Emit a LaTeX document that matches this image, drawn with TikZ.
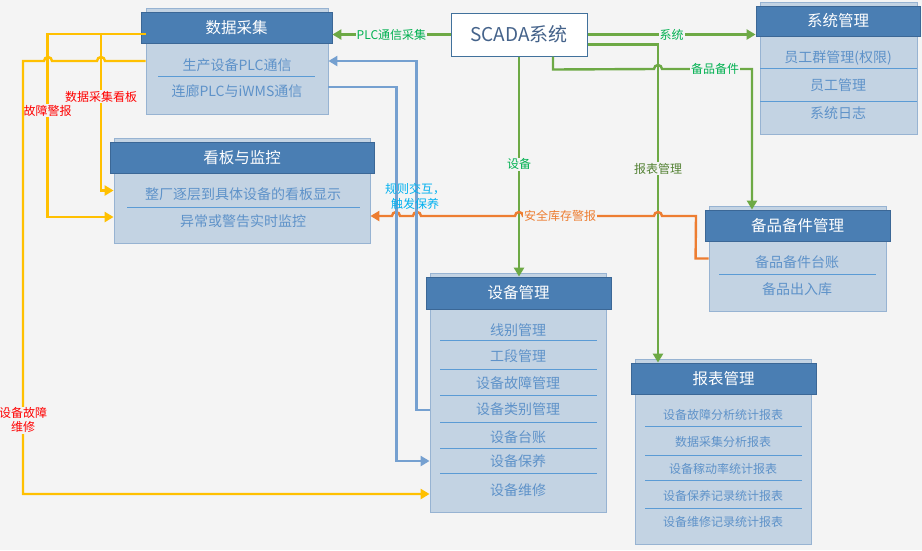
\documentclass[tikz,border=0pt]{standalone}
\usepackage{fontspec}
\usepackage{tikz}
\usetikzlibrary{arrows.meta,calc,positioning}
\newfontfamily\cjk{Noto Sans CJK SC}
\definecolor{bgc}{HTML}{F4F4F4}
\definecolor{headfill}{HTML}{4A7EB3}
\definecolor{headedge}{HTML}{3B6796}
\definecolor{bodyfill}{HTML}{C3D3E3}
\definecolor{bodyedge}{HTML}{97B3D2}
\definecolor{itemtxt}{HTML}{5E92C9}
\definecolor{sepc}{HTML}{5B9BD5}
\definecolor{gline}{HTML}{6DA945}
\definecolor{gtxt}{HTML}{00B050}
\definecolor{gdark}{HTML}{548235}
\definecolor{bline}{HTML}{75A0D0}
\definecolor{oline}{HTML}{ED7D31}
\definecolor{yline}{HTML}{FFC000}
\definecolor{scedge}{HTML}{41719C}
\definecolor{sctxt}{HTML}{44628A}
\definecolor{ltblue}{HTML}{00B0F0}
\tikzset{
  modbody/.style={
    shape = rectangle,
    draw = bodyedge,
    fill = bodyfill,
    line width = 0.8pt,
    inner sep = 0pt
  },
  modhead/.style={
    shape = rectangle,
    draw = headedge,
    fill = headfill,
    line width = 0.8pt,
    inner sep = 0pt,
    text = white,
    font = \cjk\fontsize{15.5}{18}\selectfont
  },
}
\tikzset{
  item/.style={
    text = itemtxt,
    font = \cjk\fontsize{14}{16}\selectfont,
    inner sep = 1pt
  },
  smallitem/.style={
    item,
    font = \cjk\fontsize{12}{14}\selectfont
  },
  sep/.style={
    draw = sepc,
    line width = 0.9pt
  },
  link/.style={
    line width = 2.4pt,
    -{Triangle[length=9pt,width=10pt]}
  },
  tag/.style={
    font = \cjk\fontsize{12}{14}\selectfont,
    fill = bgc,
    inner sep = 1pt
  }
}
\begin{document}
\begin{tikzpicture}[x=1pt,y=-1pt]
    \fill[bgc] (0,0) rectangle (922,550);
    \useasboundingbox (0,0) rectangle (922,550);
    % modules
    \node[modbody, minimum width=182pt, minimum height=106pt] (dcbody) at (237,61) {};
    \node[modhead, minimum width=191pt, minimum height=31pt] (dchead) at (236.5,27.5) {数据采集};
    \node[modbody, minimum width=256pt, minimum height=105pt] (kbbody) at (242,190.5) {};
    \node[modhead, minimum width=264pt, minimum height=31pt] (kbhead) at (242,157.5) {看板与监控};
    \node[modbody, minimum width=157pt, minimum height=132pt] (ssbody) at (838.5,68) {};
    \node[modhead, minimum width=164pt, minimum height=30pt] (sshead) at (838,21) {系统管理};
    \node[modbody, minimum width=177pt, minimum height=105pt] (bjbody) at (797.5,258.5) {};
    \node[modhead, minimum width=185pt, minimum height=31pt] (bjhead) at (797.5,225.5) {备品备件管理};
    \node[modbody, minimum width=176pt, minimum height=239pt] (sbbody) at (518,392.5) {};
    \node[modhead, minimum width=185pt, minimum height=32pt] (sbhead) at (518.5,293) {设备管理};
    \node[modbody, minimum width=176pt, minimum height=185pt] (rpbody) at (723,451.5) {};
    \node[modhead, minimum width=185pt, minimum height=31pt] (rphead) at (723.5,378.5) {报表管理};
    \node[draw=scedge, fill=white, line width=1pt, minimum width=136pt, minimum height=43pt,
      text=sctxt, font=\cjk\fontsize{19}{22}\selectfont] (scada) at (519,34.5) {SCADA系统};
    % items
    \foreach \t/\y [count=\i] in {生产设备PLC通信/65, 连廊PLC与iWMS通信/90.7}{
    \node[item] (dc\i) at (237,\y) {\t};}
    \foreach \t/\y [count=\i] in {整厂逐层到具体设备的看板显示/194, 异常或警告实时监控/220.7}{
    \node[item] (kb\i) at (243,\y) {\t};}
    \foreach \t/\y [count=\i] in {员工群管理(权限)/58.3, 员工管理/85, 系统日志/112.7}{
    \node[item] (ss\i) at (838,\y) {\t};}
    \foreach \t/\y [count=\i] in {备品备件台账/262, 备品出入库/289}{
    \node[item] (bj\i) at (797,\y) {\t};}
    \foreach \t/\y [count=\i] in {线别管理/330, 工段管理/356, 设备故障管理/382.7, 设备类别管理/409,
      设备台账/436.7, 设备保养/461, 设备维修/490}{
    \node[item] (sb\i) at (518,\y) {\t};}
    \foreach \t/\y [count=\i] in {设备故障分析统计报表/415.3, 数据采集分析报表/441.7, 设备稼动率统计报表/468.7,
      设备保养记录统计报表/495.7, 设备维修记录统计报表/522}{
    \node[smallitem] (rp\i) at (723,\y) {\t};}
    \draw[sep] (158,76) -- (315,76);
    \draw[sep] (127,207) -- (360,207);
    \foreach \y in {68,101}{\draw[sep] (760,\y) -- (917,\y);}
    \draw[sep] (719,274) -- (876,274);
    \foreach \y in {340.3,369.3,395.3,422.7,448.3,473.3}{\draw[sep] (440,\y) -- (597,\y);}
    \foreach \y in {426,455.3,480,508.3}{\draw[sep] (645,\y) -- (801.7,\y);}
    % green
    \draw[link, gline] (scada.west) -- (scada.west -| dchead.east)
      node[tag, text=gtxt, midway] (lplc) {PLC通信采集};
    \draw[link, gline] (scada.east) -- (scada.east -| sshead.west)
      node[tag, text=gtxt, midway] (lxt) {系统};
    \draw[link, gline] ([yshift=-10pt]scada.east) -| ([xshift=-65.5pt]rphead.north)
      node[tag, text=gdark, pos=0.695] (lbb) {报表管理};
    \draw[link, gline] (scada.south) -- (scada.south |- sbhead.north)
      node[tag, text=gtxt, pos=0.49] (lsb) {设备};
    \draw[link, gline] ([xshift=34pt]scada.south) -- ++(0,13) -- (654,69)
      arc[start angle=180, end angle=0, radius=4pt] -- (752,69) -- ([xshift=-45.5pt]bjhead.north);
    \node[tag, text=gtxt] (lbj) at (715,69) {备品备件};
    % orange
    \draw[link, oline] (bjbody.west) -- ++(-13,0) -- (696,216) -- (662,216)
      arc[start angle=0, end angle=180, radius=4pt] -- (523,216)
      arc[start angle=0, end angle=180, radius=4pt] -- (421,216)
      arc[start angle=0, end angle=180, radius=4pt] -- (400,216)
      arc[start angle=0, end angle=180, radius=4pt] -- ([yshift=-25.5pt]kbbody.east);
    \node[tag, text=oline] (laq) at (560,216) {安全库存警报};
    % blue
    \draw[link, bline] ([yshift=-17.5pt]sbbody.west) -- ++(-13,0) |- (dcbody.east);
    \draw[link, bline] ([yshift=-26pt]dcbody.east) -- ++(68,0) |- ([yshift=-68.5pt]sbbody.west);
    \node[text=ltblue, font=\cjk\fontsize{12}{15}\selectfont, align=center, inner sep=1pt] (lgz) at (415,196) {规则交互，\\触发保养};
    % yellow
    \coordinate (yj) at (101,34);
    \draw[link, yline] ([yshift=27pt]dcbody.west) -- ++(-98,0) |- ([yshift=-26.5pt]kbbody.west)
      node[tag, text=red, pos=0.21] (lgj) {故障警报};
    \draw[link, yline] (yj) |- (kbbody.west)
      node[tag, text=red, pos=0.2] (lkb) {数据采集看板};
    \draw[link, yline] (dcbody.west) -- (105,61)
      arc[start angle=0, end angle=180, radius=4pt] -- (52,61)
      arc[start angle=0, end angle=180, radius=4pt] -- (23,61) |- ([yshift=-101.5pt]sbbody.west)
      node[tag, text=red, align=center, pos=0.415] (lwx) {设备故障\\维修};
\end{tikzpicture}
\end{document}
